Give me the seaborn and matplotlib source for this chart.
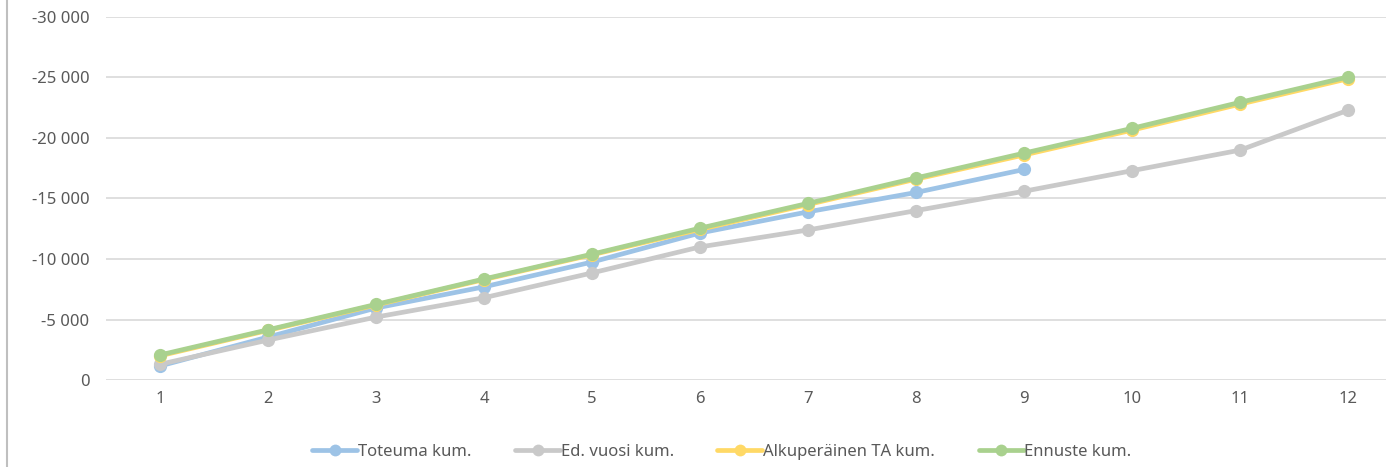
import pandas as pd
import numpy as np
import matplotlib.pyplot as plt
import seaborn as sns

# kuukaudet
kuukaudet = list(range(1, 13))

# kumulatiiviset arvot (luettu kuvasta)
toteuma = [-1160, -3550, -5950, -7700, -9750, -12150, -13900, -15500, -17400, np.nan, np.nan, np.nan]
ed_vuosi = [-1300, -3300, -5200, -6800, -8850, -11000, -12400, -14000, -15600, -17300, -19000, -22300]
alkup_ta = [-2000, -4100, -6200, -8300, -10350, -12450, -14500, -16600, -18600, -20650, -22800, -24900]
ennuste = [-2070, -4150, -6250, -8350, -10400, -12550, -14600, -16700, -18750, -20800, -22950, -25050]

sarjat = ['Toteuma kum.', 'Ed. vuosi kum.', 'Alkuperäinen TA kum.', 'Ennuste kum.']
varit = ['#9DC3E6', '#C9C9C9', '#FFD966', '#A9D18E']

df = pd.DataFrame({
    'kk': kuukaudet,
    'Toteuma kum.': toteuma,
    'Ed. vuosi kum.': ed_vuosi,
    'Alkuperäinen TA kum.': alkup_ta,
    'Ennuste kum.': ennuste,
})
pitka = df.melt(id_vars='kk', var_name='sarja', value_name='arvo').dropna()

sns.set_style("white")
plt.rcParams['font.family'] = ['Noto Sans', 'DejaVu Sans']
teksti = '#595959'

fig = plt.figure(figsize=(13.86, 4.67), dpi=100)
ax = fig.add_axes([106 / 1386, 87 / 467, 1280 / 1386, 363 / 467])

# vaakaviivat
for v in range(0, -30001, -5000):
    ax.axhline(v, color='#D9D9D9', linewidth=1.2, zorder=0)

sns.lineplot(data=pitka, x='kk', y='arvo', hue='sarja', hue_order=sarjat,
             palette=varit, marker='o', markersize=9.5, markeredgewidth=0,
             linewidth=3.4, ax=ax, legend=False, zorder=3)

ax.set_xlim(0.5, 12.35)
ax.set_ylim(0, -30000)
ax.set_xticks(kuukaudet)
ax.set_xticklabels([str(k) for k in kuukaudet])
ax.set_yticks(range(0, -30001, -5000))
ax.set_yticklabels(['0' if v == 0 else f'{v:,}'.replace(',', ' ') for v in range(0, -30001, -5000)])
ax.tick_params(axis='both', length=0, labelsize=12, labelcolor=teksti)
ax.tick_params(axis='y', pad=12)
ax.tick_params(axis='x', pad=8)
ax.set_xlabel('')
ax.set_ylabel('')
for s in ax.spines.values():
    s.set_visible(False)

# selite
kahvat = [plt.Line2D([0], [0], color=c, linewidth=3.4, marker='o', markersize=8.5, markeredgewidth=0)
          for c in varit]
fig.legend(kahvat, sarjat, loc='center', bbox_to_anchor=(722 / 1386, 1 - 452 / 467), ncol=4,
           frameon=False, fontsize=12, labelcolor=teksti, handlelength=2.7,
           handletextpad=0.05, columnspacing=2.6)

# vasen reunaviiva
fig.add_artist(plt.Line2D([7 / 1386, 7 / 1386], [0, 1], color='#BFBFBF', linewidth=1.5))

fig.savefig('out.png', dpi=100)
